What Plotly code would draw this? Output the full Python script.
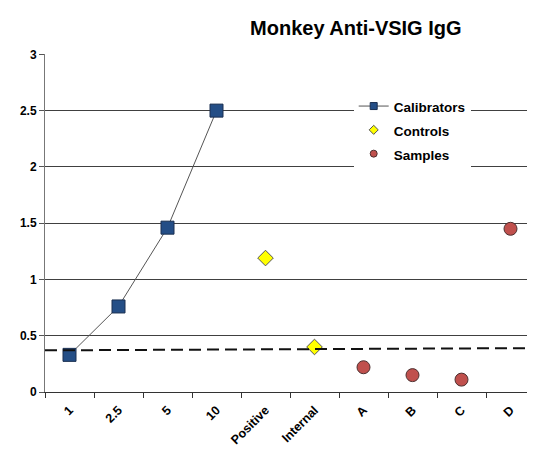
import plotly.graph_objects as go

categories = ["1", "2.5", "5", "10", "Positive", "Internal", "A", "B", "C", "D"]
cal_x = ["1", "2.5", "5", "10"]
cal_y = [0.33, 0.76, 1.46, 2.50]
ctrl_x = ["Positive", "Internal"]
ctrl_y = [1.19, 0.40]
samp_x = ["A", "B", "C", "D"]
samp_y = [0.22, 0.15, 0.11, 1.45]
cutoff = [0.37, 0.39]  # dashed cutoff line: left end, right end
y_ticks = [0, 0.5, 1, 1.5, 2, 2.5, 3]
title = "Monkey Anti-VSIG IgG"

FONT = "Liberation Sans, Arial"
cal_style = dict(symbol="square", color="#244E86", line=dict(color="#1a2f50", width=1))
ctrl_style = dict(symbol="diamond", color="#FFFF00", line=dict(color="#555555", width=1))
samp_style = dict(symbol="circle", color="#C0504D", line=dict(color="#4d3030", width=1))


def leg(name):
    return '<span style="font-size:13.5px"><b>' + name + '</b></span>'


fig = go.Figure()
fig.add_trace(go.Scatter(
    x=cal_x, y=cal_y, name="Calibrators", mode="lines+markers", showlegend=False,
    line=dict(color="#555555", width=1), marker=dict(size=13, **cal_style),
))
fig.add_trace(go.Scatter(
    x=ctrl_x, y=ctrl_y, name="Controls", mode="markers", showlegend=False,
    marker=dict(size=12, **ctrl_style),
))
fig.add_trace(go.Scatter(
    x=samp_x, y=samp_y, name="Samples", mode="markers", showlegend=False,
    marker=dict(size=13, **samp_style),
))
# legend entries with small symbols
fig.add_trace(go.Scatter(x=[None], y=[None], name=leg("Calibrators"), mode="lines+markers",
                         line=dict(color="#555555", width=1), marker=dict(size=7, **cal_style)))
fig.add_trace(go.Scatter(x=[None], y=[None], name=leg("Controls"), mode="markers",
                         marker=dict(size=7, **ctrl_style)))
fig.add_trace(go.Scatter(x=[None], y=[None], name=leg("Samples"), mode="markers",
                         marker=dict(size=7, **samp_style)))

fig.add_shape(type="line", xref="paper", yref="y", x0=0, x1=1,
              y0=cutoff[0], y1=cutoff[1],
              line=dict(color="#111111", width=2, dash="12px,6px"), layer="above")

fig.update_layout(
    width=527, height=441,
    margin=dict(l=37, r=0, t=46, b=57, autoexpand=False),
    paper_bgcolor="white", plot_bgcolor="white",
    font=dict(family=FONT, color="#000000", size=12),
    title=dict(text="<b>" + title + "</b>", x=0.66, xanchor="center",
               y=0.955, yanchor="middle", font=dict(size=20)),
    showlegend=True,
    legend=dict(x=0.63, y=0.896, xanchor="left", yanchor="top",
                bgcolor="white", borderwidth=0,
                font=dict(size=16, family=FONT),
                itemwidth=30, tracegroupgap=0),
    xaxis=dict(type="category", categoryorder="array", categoryarray=categories,
               range=[-0.5, 9.5], tickson="boundaries", ticks="outside",
               ticklen=5, tickcolor="#333333", showline=True, linecolor="#333333",
               linewidth=1, showgrid=False, tickangle=-45, ticklabelstandoff=5,
               tickfont=dict(size=12.5, family=FONT),
               tickvals=categories,
               ticktext=["<b>" + c + "</b>" for c in categories]),
    yaxis=dict(range=[0, 3.003], ticks="outside", ticklen=5,
               tickcolor="#555555", showline=True, linecolor="#777777",
               linewidth=1, showgrid=True, gridcolor="#404040", gridwidth=1,
               zeroline=False,
               tickfont=dict(size=12),
               tickvals=y_ticks,
               ticktext=["<b>%g</b>" % v for v in y_ticks]),
)

fig.write_html("out.html")
